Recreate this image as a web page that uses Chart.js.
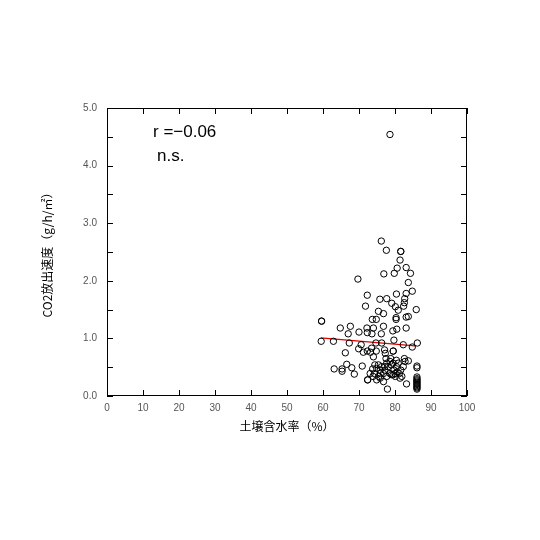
<!DOCTYPE html>
<html>
<head>
<meta charset="utf-8">
<script src="https://cdn.jsdelivr.net/npm/chart.js@4.4.1/dist/chart.umd.min.js"></script>
<style>
    html, body { margin: 0; padding: 0; background: #fff; }
    #wrap { width: 540px; height: 540px; }
</style>
</head>
<body>
<div id="wrap"><canvas id="soilChart" width="540" height="540"></canvas></div>
<script>
// soil moisture (%) of each measurement
const moisture = [
    78.6, 76.2, 77.6, 81.6, 81.6, 81.4, 80.6, 83.1, 79.8, 84.3,
    76.9, 69.7, 83.7, 72.3, 84.8, 83.1, 80.4, 75.8, 77.7, 82.7,
    79.1, 82.6, 71.8, 80.1, 82.4, 80.9, 85.9, 75.4, 76.8, 80.3,
    80.3, 83.1, 83.7, 73.7, 74.8, 59.6, 59.6, 67.6, 64.8, 76.8,
    72.2, 74.0, 70.0, 80.5, 83.1, 67.0, 72.3, 73.6, 76.2, 79.4,
    79.7, 59.5, 62.9, 67.3, 70.6, 74.7, 76.3, 82.3, 86.2, 84.8,
    69.9, 71.2, 72.3, 73.2, 73.5, 66.2, 74.8, 77.1, 77.3, 79.5,
    79.5, 74.0, 77.5, 78.8, 82.6, 83.7, 80.4, 66.6, 63.1, 65.3,
    65.3, 68.0, 68.7, 70.9, 72.4, 72.4, 77.9, 83.2, 86.1, 86.1,
    86.1, 86.1, 86.1, 86.1, 86.1, 86.1, 86.1, 86.1, 86.1, 86.1,
    86.1,
    73.8, 74.3, 74.9, 75.4, 75.9, 75.5, 76.3, 76.8, 77.2, 77.7,
    78.1, 78.6, 79.0, 79.5, 79.7, 80.1, 80.4, 80.9, 81.2, 81.6,
    81.9, 82.3, 82.8, 73.9, 74.9, 75.9, 76.8, 77.7, 79.0, 80.0,
    74.4, 73.1, 75.9, 77.2, 78.6, 79.5, 80.6, 81.4
];

// CO2 efflux rate (g/h/m2), same order as moisture
const co2Rate = [
    4.54, 2.69, 2.53, 2.51, 2.51, 2.36, 2.22, 2.23, 2.13, 2.13,
    2.12, 2.03, 1.97, 1.75, 1.82, 1.78, 1.77, 1.68, 1.69, 1.69,
    1.61, 1.62, 1.56, 1.55, 1.56, 1.49, 1.50, 1.47, 1.43, 1.36,
    1.33, 1.37, 1.38, 1.33, 1.33, 1.30, 1.30, 1.21, 1.18, 1.21,
    1.18, 1.18, 1.11, 1.16, 1.18, 1.08, 1.10, 1.08, 1.08, 1.13,
    0.97, 0.95, 0.95, 0.92, 0.89, 0.92, 0.92, 0.89, 0.92, 0.85,
    0.82, 0.76, 0.78, 0.76, 0.83, 0.75, 0.78, 0.80, 0.74, 0.78,
    0.78, 0.68, 0.65, 0.65, 0.65, 0.61, 0.62, 0.55, 0.47, 0.47,
    0.43, 0.49, 0.38, 0.52, 0.28, 0.28, 0.12, 0.21, 0.52, 0.49,
    0.33, 0.30, 0.28, 0.26, 0.24, 0.22, 0.20, 0.18, 0.16, 0.14,
    0.12,
    0.47, 0.39, 0.48, 0.54, 0.45, 0.34, 0.51, 0.39, 0.45, 0.57,
    0.51, 0.39, 0.54, 0.57, 0.45, 0.34, 0.51, 0.57, 0.39, 0.45,
    0.34, 0.51, 0.60, 0.34, 0.28, 0.31, 0.25, 0.34, 0.37, 0.39,
    0.54, 0.39, 0.39, 0.51, 0.60, 0.37, 0.42, 0.31
];

// regression line end points
const trendX = [59.4, 85.6];
const trendY = [1.01, 0.87];

const xTicks = [0, 10, 20, 30, 40, 50, 60, 70, 80, 90, 100];
const yTicks = [0, 0.5, 1, 1.5, 2, 2.5, 3, 3.5, 4, 4.5, 5];

const statText = ['r =\u22120.06', 'n.s.'];

const points = moisture.map((x, i) => ({ x: x, y: co2Rate[i] }));
const trend = trendX.map((x, i) => ({ x: x, y: trendY[i] }));

// frame, inward ticks and the r / n.s. note
const framePlugin = {
    id: 'frameTicks',
    afterDraw: (chart) => {
        const { ctx, chartArea, scales } = chart;
        const { left, right, top, bottom } = chartArea;
        ctx.save();
        ctx.strokeStyle = '#000';
        ctx.lineWidth = 1;
        ctx.strokeRect(left + 0.5, top + 0.5, right - left - 1, bottom - top - 1);

        ctx.beginPath();
        xTicks.forEach((v) => {
            const px = Math.round(scales.x.getPixelForValue(v)) + 0.5;
            ctx.moveTo(px, bottom);
            ctx.lineTo(px, bottom - 6);
            ctx.moveTo(px, top);
            ctx.lineTo(px, top + 6);
        });
        yTicks.forEach((v) => {
            const py = Math.round(scales.y.getPixelForValue(v)) + 0.5;
            ctx.moveTo(left, py);
            ctx.lineTo(left + 6, py);
            ctx.moveTo(right, py);
            ctx.lineTo(right - 6, py);
        });
        ctx.stroke();

        ctx.fillStyle = '#000';
        ctx.textBaseline = 'top';
        ctx.font = '17px "Liberation Sans Narrow", "Liberation Sans", Arial, sans-serif';
        ctx.fillText(statText[0], left + 46, top + 16);
        ctx.fillText(statText[1], left + 50, top + 40);
        ctx.restore();
    },
};

const tickFont = { family: '"Liberation Sans", Arial, sans-serif', size: 10 };
const titleFont = { family: '"Noto Sans CJK JP", sans-serif', size: 12 };

new Chart(document.getElementById('soilChart'), {
    type: 'scatter',
    data: {
        datasets: [
            {
                label: 'data',
                data: points,
                pointStyle: 'circle',
                pointRadius: 3.2,
                pointBorderWidth: 1,
                pointBorderColor: '#000',
                pointBackgroundColor: 'rgba(0,0,0,0)',
                pointHoverRadius: 3.2,
            },
            {
                label: 'trend',
                type: 'line',
                data: trend,
                borderColor: '#e00000',
                borderWidth: 1.2,
                pointRadius: 0,
                fill: false,
            },
        ],
    },
    options: {
        responsive: false,
        animation: false,
        events: [],
        layout: {
            padding: { left: 0, top: 108, right: 73, bottom: 0 },
        },
        plugins: {
            legend: { display: false },
            tooltip: { enabled: false },
        },
        scales: {
            x: {
                type: 'linear',
                min: 0,
                max: 100,
                afterFit: (scale) => { scale.height = 144; },
                grid: { display: false, drawTicks: false },
                border: { display: false },
                ticks: {
                    stepSize: 10,
                    padding: 6,
                    color: '#555',
                    font: tickFont,
                },
                title: {
                    display: true,
                    text: '土壌含水率（%）',
                    color: '#000',
                    font: titleFont,
                    padding: { top: 0, bottom: 106 },
                },
            },
            y: {
                type: 'linear',
                min: 0,
                max: 5,
                afterFit: (scale) => { scale.width = 107; },
                grid: { display: false, drawTicks: false },
                border: { display: false },
                ticks: {
                    stepSize: 1,
                    padding: 10,
                    color: '#555',
                    font: tickFont,
                    callback: (value) => value.toFixed(1),
                },
                title: {
                    display: true,
                    text: 'CO2放出速度（g/h/㎡）',
                    color: '#000',
                    font: { family: '"Noto Sans CJK JP", sans-serif', size: 12 },
                    padding: { top: 40, bottom: 0 },
                },
            },
        },
    },
    plugins: [framePlugin],
});
</script>
</body>
</html>
